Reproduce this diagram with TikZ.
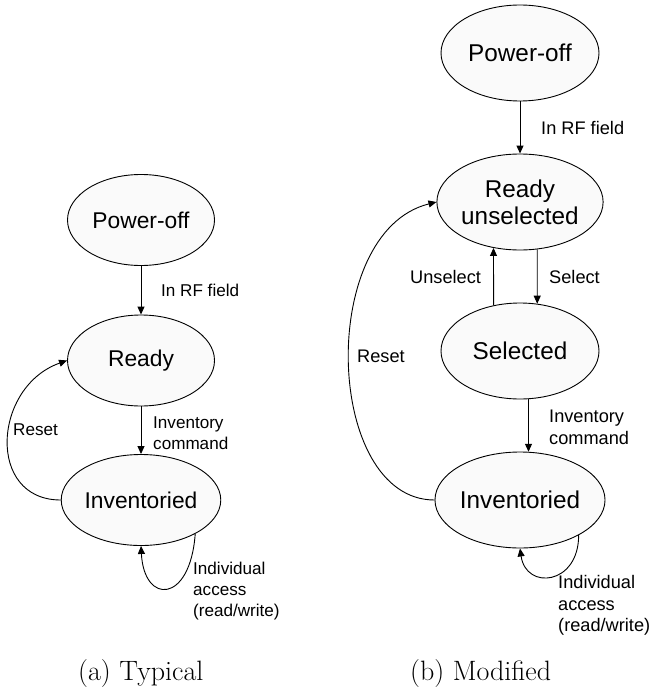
\documentclass[tikz,border=0pt]{standalone}
\usepackage{fontspec}
\setmainfont{Latin Modern Roman}
\newfontfamily\diagfont{Liberation Sans}
\usetikzlibrary{shapes.geometric,arrows.meta}

\tikzset{
  stateL/.style={ellipse, draw=black, line width=0.9pt, fill=black!2,
    minimum width=147pt, minimum height=91pt, inner sep=0pt, align=center,
    font=\diagfont\fontsize{22.8}{26}\selectfont},
  stateR/.style={ellipse, draw=black, line width=0.9pt, fill=black!2,
    minimum width=158pt, minimum height=96pt, inner sep=0pt, align=center,
    font=\diagfont\fontsize{24.3}{27}\selectfont},
  arr/.style={line width=0.9pt, -{Triangle[length=8pt,width=7pt]}},
  lblL/.style={anchor=west, inner sep=0pt, align=left,
    font=\diagfont\fontsize{17.1}{21}\selectfont},
  lblR/.style={anchor=west, inner sep=0pt, align=left,
    font=\diagfont\fontsize{18.2}{21.5}\selectfont},
  caption/.style={anchor=base west, inner sep=0pt, font=\fontsize{28}{33}\selectfont}
}

\begin{document}
\begin{tikzpicture}[x=1pt,y=-1pt]
  \useasboundingbox (0,0) rectangle (650,690);

  % ---------- (a) typical state machine ----------
  \node[stateL] (Lpow)   at (141,220) {Power-off};
  \node[stateL] (Lready) at (141,360.5) {Ready};
  \node[stateL] (Linv)   at (141,500) {Inventoried};

  \draw[arr] (Lpow.south) -- (Lready.north);
  \draw[arr] (Lready.south) -- (Linv.north);
  \draw[arr] (Linv.west) .. controls +(-75,0) and +(-74,26) .. (Lready.west);
  \draw[arr] (Linv.-32) .. controls +(-5,70) and +(3,59) .. (Linv.south);

  \node[lblL] (LrfT)    at (161,290) {In RF field};
  \node[lblL] (LinvT)   at (153,433) {Inventory\\command};
  \node[lblL] (LresetT) at (13,430) {Reset};
  \node[lblL] (LaccT)   at (193,591) {Individual\\access\\(read/write)};

  \node[caption] (capA) at (78,680) {(a) Typical};

  % ---------- (b) modified state machine ----------
  \node[stateR] (Rpow)   at (520,53) {Power-off};
  \node[stateR] (Rready) at (520,202) {Ready\\unselected};
  \node[stateR] (Rsel)   at (520,351) {Selected};
  \node[stateR] (Rinv)   at (520,500) {Inventoried};

  \draw[arr] (Rpow.south) -- (Rready.north);
  \draw[arr] (Rready.-70) -- (Rsel.70);
  \draw[arr] (Rsel.120) -- (Rready.-120);
  \draw[arr] (Rsel.-80) -- (Rinv.80);
  \draw[arr] (Rinv.west) .. controls +(-110,0) and +(-120,30) .. (Rready.west);
  \draw[arr] (Rinv.-31.5) .. controls +(0,50) and +(6,42) .. (Rinv.south);

  \node[lblR] (RrfT)    at (541,128) {In RF field};
  \node[lblR] (RunselT) at (410,277) {Unselect};
  \node[lblR] (RselT)   at (549,277) {Select};
  \node[lblR] (RresetT) at (357,356) {Reset};
  \node[lblR] (RinvT)   at (549,427.5) {Inventory\\command};
  \node[lblR] (RaccT)   at (558,605.5) {Individual\\access\\(read/write)};

  \node[caption] (capB) at (410,680) {(b) Modified};
\end{tikzpicture}
\end{document}
